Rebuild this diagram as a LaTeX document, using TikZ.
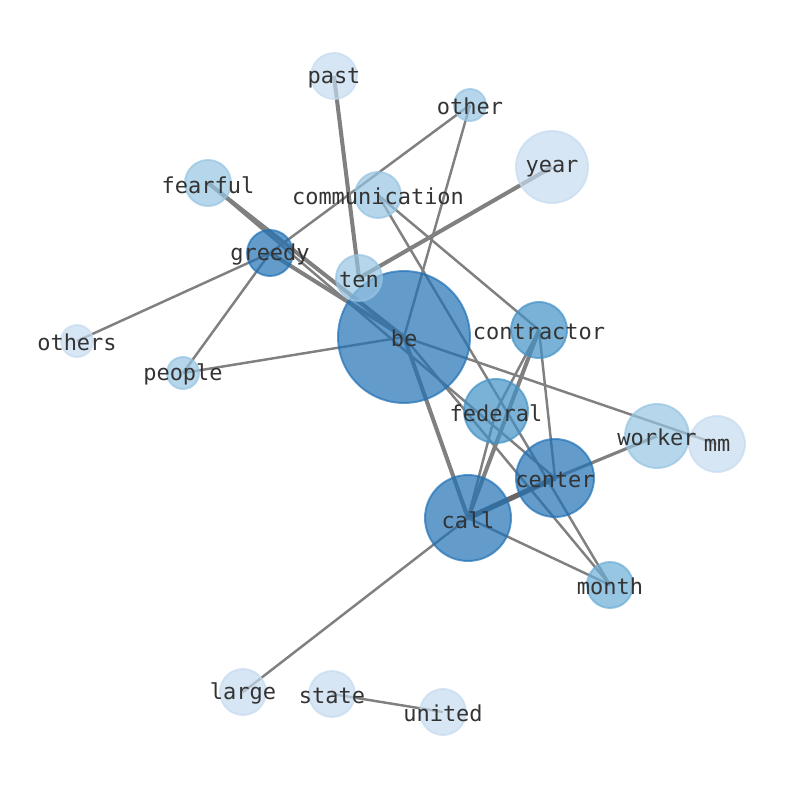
\documentclass[tikz,border=0pt]{standalone}
\usepackage{fontspec}
\setmonofont{DejaVu Sans Mono}
\usetikzlibrary{backgrounds}

\definecolor{blueA}{RGB}{33,113,181}
\definecolor{blueB}{RGB}{66,146,198}
\definecolor{blueC}{RGB}{107,174,214}
\definecolor{blueD}{RGB}{150,196,226}
\definecolor{blueE}{RGB}{198,219,239}
\definecolor{wordgray}{RGB}{51,51,51}

\begin{document}
\begin{tikzpicture}[x=0.02cm,y=-0.02cm]
\tikzset{font=\ttfamily\fontsize{12.5}{14}\selectfont}
\tikzset{every label/.style={text=wordgray, inner sep=0pt, yshift=-1pt}}
\tikzset{word/.style={circle, inner sep=0pt, line width=1.1pt, fill opacity=0.7, draw opacity=0.7}}
\tikzset{toneA/.style={word, fill=blueA, draw=blueA}}
\tikzset{toneB/.style={word, fill=blueB, draw=blueB}}
\tikzset{toneC/.style={word, fill=blueC, draw=blueC}}
\tikzset{toneD/.style={word, fill=blueD, draw=blueD}}
\tikzset{toneE/.style={word, fill=blueE, draw=blueE}}
\tikzset{link/.style={draw=gray, line width=1.4pt}}
\tikzset{heavy/.style={link, line width=2.3pt}}
\tikzset{heavier/.style={link, draw=black!60, line width=3pt}}
\useasboundingbox (0,0) rectangle (794,790);

% words
\node[toneE, minimum size=0.92cm, label=center:past] (past) at (334,76) {};
\node[toneD, minimum size=0.64cm, label=center:other] (other) at (470,105) {};
\node[toneE, minimum size=1.44cm, label=center:year] (year) at (552,167) {};
\node[toneD, minimum size=0.92cm, label=center:fearful] (fearful) at (208,183) {};
\node[toneD, minimum size=0.92cm, label=center:communication] (communication) at (378,195) {};
\node[toneA, minimum size=0.92cm, label=center:greedy] (greedy) at (270,253) {};
\node[toneE, minimum size=0.64cm, label=center:others] (others) at (77,341) {};
\node[toneA, minimum size=2.64cm, label=center:be] (be) at (404,337) {};
\node[toneD, minimum size=0.92cm, label=center:ten] (ten) at (359,278) {};
\node[toneB, minimum size=1.12cm, label=center:contractor] (contractor) at (539,330) {};
\node[toneD, minimum size=0.64cm, label=center:people] (people) at (183,373) {};
\node[toneB, minimum size=1.28cm, label=center:federal] (federal) at (496,411) {};
\node[toneE, minimum size=1.12cm, label=center:mm] (mm) at (717,444) {};
\node[toneD, minimum size=1.28cm, label=center:worker] (worker) at (657,436) {};
\node[toneA, minimum size=1.56cm, label=center:center] (center) at (555,478) {};
\node[toneA, minimum size=1.72cm, label=center:call] (call) at (468,518) {};
\node[toneC, minimum size=0.92cm, label=center:month] (month) at (610,585) {};
\node[toneE, minimum size=0.92cm, label=center:large] (large) at (243,692) {};
\node[toneE, minimum size=0.92cm, label=center:state] (state) at (332,694) {};
\node[toneE, minimum size=0.92cm, label=center:united] (united) at (443,712) {};

% links under the words
\begin{scope}[on background layer]
\draw[heavy] (past.center) -- (ten.center);
\draw[heavy] (year.center) -- (ten.center);
\draw[link] (other.center) -- (greedy.center);
\draw[link] (other.center) -- (be.center);
\draw[heavy] (fearful.center) -- (be.center);
\draw[link] (fearful.center) -- (center.center);
\draw[heavy] (greedy.center) -- (be.center);
\draw[link] (greedy.center) -- (others.center);
\draw[link] (greedy.center) -- (people.center);
\draw[link] (people.center) -- (be.center);
\draw[link] (communication.center) -- (contractor.center);
\draw[link] (communication.center) -- (month.center);
\draw[heavy] (be.center) -- (call.center);
\draw[link] (be.center) -- (mm.center);
\draw[link] (be.center) -- (month.center);
\draw[heavy] (contractor.center) -- (call.center);
\draw[link] (contractor.center) -- (federal.center);
\draw[link] (contractor.center) -- (center.center);
\draw[link] (federal.center) -- (call.center);
\draw[heavier] (call.center) -- (center.center);
\draw[link, line width=1.8pt] (center.center) -- (worker.center);
\draw[link] (call.center) -- (month.center);
\draw[link] (call.center) -- (large.center);
\draw[link] (state.center) -- (united.center);
\end{scope}
\end{tikzpicture}
\end{document}
